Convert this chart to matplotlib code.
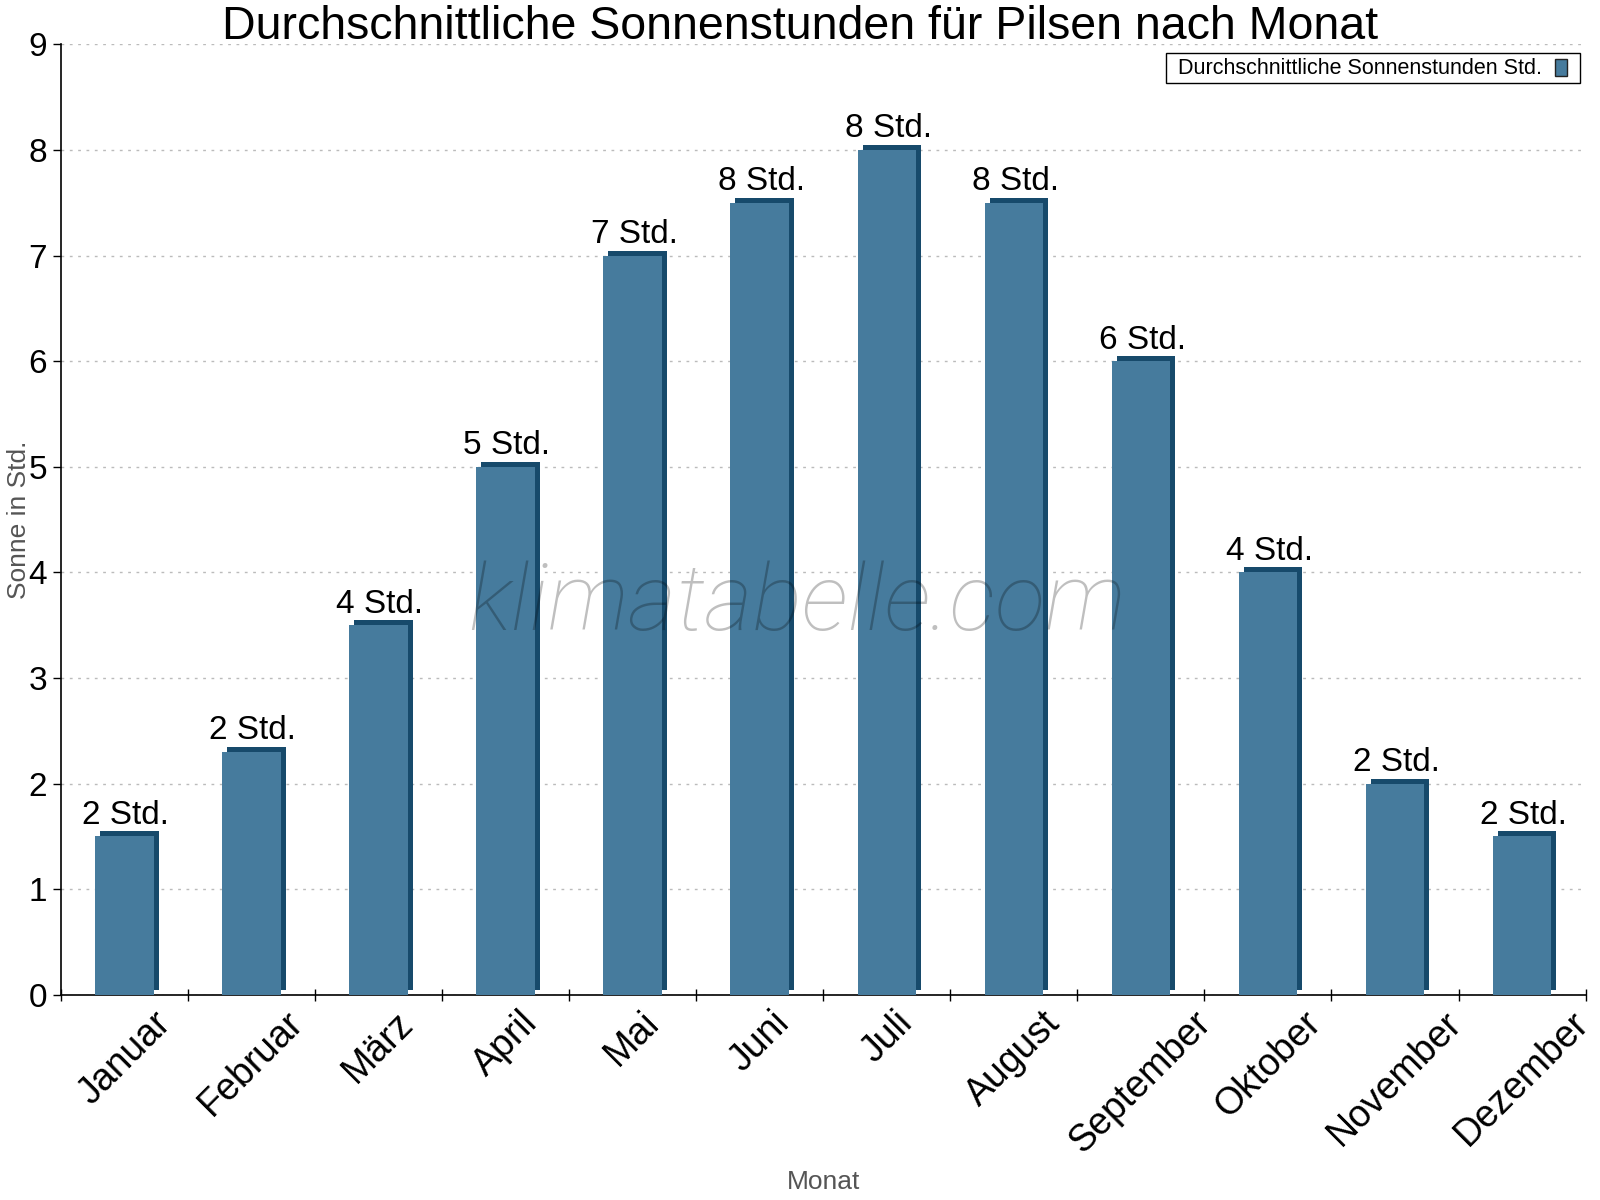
#import dependencies
import numpy as np
import matplotlib.pyplot as plt
import matplotlib.patches as patches
from matplotlib.transforms import ScaledTranslation

plt.rcParams['font.family'] = ['Liberation Sans', 'DejaVu Sans']

# data
months = ['Januar', 'Februar', 'März', 'April', 'Mai', 'Juni',
          'Juli', 'August', 'September', 'Oktober', 'November', 'Dezember']
sun_hours = [1.5, 2.3, 3.5, 5.0, 7.0, 7.5, 8.0, 7.5, 6.0, 4.0, 2.0, 1.5]
bar_labels = ['2 Std.', '2 Std.', '4 Std.', '5 Std.', '7 Std.', '8 Std.',
              '8 Std.', '8 Std.', '6 Std.', '4 Std.', '2 Std.', '2 Std.']
legend_label = 'Durchschnittliche Sonnenstunden Std.'

front = '#467b9d'
side = '#174a6b'

fig = plt.figure(figsize=(16, 12), dpi=100)
ax = fig.add_axes([0.038, 0.171, 0.953, 0.792])

x = np.arange(len(months))
w = 0.46

# 3d look: dark bar shifted up/right behind the front bar
shift = ax.transData + ScaledTranslation(5/100, 5/100, fig.dpi_scale_trans)
ax.bar(x, sun_hours, width=w, color=side, transform=shift, zorder=2)
ax.bar(x, sun_hours, width=w, color=front, zorder=3)

for xi, v, lab in zip(x, sun_hours, bar_labels):
    ax.annotate(lab, (xi, v), xytext=(1, 4), textcoords='offset points',
                ha='center', va='bottom', fontsize=24, color='black', zorder=4)

ax.set_xlim(-0.5, 11.5)
ax.set_ylim(0, 9)
ax.set_yticks(range(10))
ax.yaxis.grid(True, linestyle=(0, (2, 4)), color='#bbbbbb', linewidth=1)
ax.set_axisbelow(True)

ax.set_xticks(np.arange(-0.5, 12, 1))
ax.set_xticklabels([])
ax.tick_params(axis='x', length=9, width=1, direction='inout')
ax.tick_params(axis='y', length=6, width=1, labelsize=24, pad=4)
off = ax.transData + ScaledTranslation(0, -10/100, fig.dpi_scale_trans)
for xi, m in zip(x, months):
    ax.text(xi, 0, m, rotation=45, ha='center', va='top',
            fontsize=27, transform=off)

ax.spines['top'].set_visible(False)
ax.spines['right'].set_visible(False)
ax.spines['left'].set_linewidth(1.2)
ax.spines['bottom'].set_linewidth(1.2)

fig.text(0.5, 0.9675, 'Durchschnittliche Sonnenstunden für Pilsen nach Monat',
         fontsize=33.5, ha='center', va='baseline')
ax.set_ylabel('Sonne in Std.', fontsize=19, color='#555555')
ax.yaxis.set_label_coords(-0.0195, 0.5)
fig.text(0.515, 0.005, 'Monat', fontsize=19, color='#555555', ha='center',
         va='bottom')

ax.text(0.483, 0.41, 'klimatabelle.com', transform=ax.transAxes, fontsize=67,
        style='italic', family=['Roboto', 'Liberation Sans'], fontweight='light',
        color='black', alpha=0.25, ha='center', va='center', zorder=5)

# legend box drawn by hand (text left, colour swatch right)
W, H = 1600, 1200
box = patches.Rectangle((1166/W, 1 - 83/H), 414/W, 30/H, transform=fig.transFigure,
                        facecolor='white', edgecolor='black', linewidth=1,
                        zorder=6, clip_on=False)
fig.patches.append(box)
swatch = patches.Rectangle((1555/W, 1 - 76/H), 12/W, 17/H, transform=fig.transFigure,
                           facecolor=front, edgecolor='#222222', linewidth=1,
                           zorder=7, clip_on=False)
fig.patches.append(swatch)
fig.text(1178/W, 1 - 68/H, legend_label, fontsize=15.5, ha='left', va='center',
         zorder=7)

fig.savefig('out.png', dpi=100)
